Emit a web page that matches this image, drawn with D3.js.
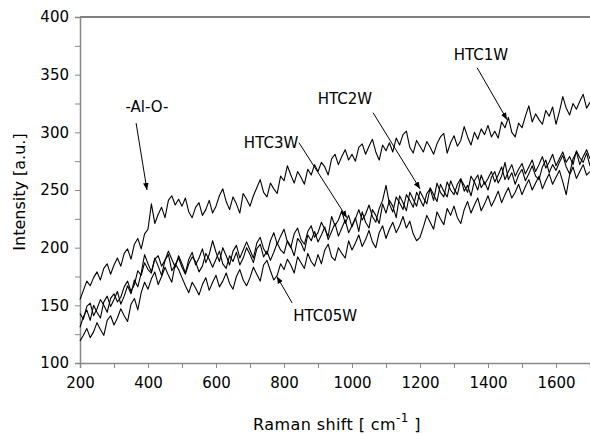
<!DOCTYPE html>
<html>
<head>
<meta charset="utf-8">
<script src="https://cdn.jsdelivr.net/npm/d3@7"></script>
<style>
  body { margin: 0; background: #fff; }
  text { font-family: "DejaVu Sans", sans-serif; }
</style>
</head>
<body>
<div id="plot-container"></div>
<script>
const ramanShift = d3.range(200, 1701, 10);

const htc1w = [155,163,171,167,174,179,172,182,186,177,
  185,191,184,195,199,190,203,208,199,212,
  216,238,221,229,235,226,241,245,237,242,
  236,243,231,226,235,239,228,233,241,230,
  236,245,251,240,233,244,238,230,247,242,
  236,245,252,259,248,244,256,251,247,262,
  258,271,263,256,266,261,255,268,263,272,
  266,274,270,263,277,281,272,279,285,276,
  281,275,287,290,281,288,294,283,276,289,
  284,291,283,295,289,298,301,287,282,293,
  288,283,292,287,281,290,296,299,282,291,
  297,288,293,305,296,289,300,294,303,298,
  306,296,301,295,309,304,313,300,296,308,
  304,314,323,309,316,311,307,319,314,322,
  307,318,331,321,315,325,320,327,333,321,
  326];

const htc2w = [143,138,149,152,141,147,155,150,144,156,
  160,153,157,166,171,162,168,180,176,187,
  181,178,190,193,184,189,194,180,185,191,
  183,177,186,192,188,179,184,195,190,183,
  190,197,186,182,193,188,196,185,191,200,
  194,187,199,203,192,197,189,196,204,198,
  195,206,201,193,208,204,197,211,206,214,
  205,211,218,207,214,221,210,217,224,213,
  219,226,214,231,222,217,233,228,221,238,
  230,241,236,226,245,239,232,248,242,236,
  249,243,238,252,246,240,255,249,244,258,
  251,246,259,254,248,262,257,250,263,255,
  260,266,257,263,270,259,266,272,262,268,
  273,264,270,276,266,272,279,269,274,281,
  271,277,283,274,279,272,284,278,274,282,
  271];

const htc3w = [131,140,146,137,150,144,139,153,158,149,
  155,162,151,158,167,160,172,166,178,194,
  186,179,191,184,176,189,197,190,183,193,
  186,178,190,196,185,191,199,187,194,206,
  196,188,200,193,185,197,202,191,198,205,
  198,191,204,209,199,194,206,213,203,210,
  216,205,200,212,217,207,203,214,219,209,
  213,222,216,210,227,219,224,232,221,228,
  218,225,233,224,229,237,227,222,234,241,
  254,238,231,244,239,233,246,241,235,248,
  242,236,247,251,241,256,248,244,257,250,
  246,255,260,249,254,245,258,263,252,257,
  250,261,266,256,262,274,259,265,255,263,
  268,258,264,271,262,259,270,276,265,272,
  267,274,280,270,264,277,283,272,279,285,
  277];

const htc05w = [119,124,130,122,127,135,129,124,137,141,
  133,139,147,141,136,151,156,146,161,170,
  164,173,179,168,175,183,176,170,186,181,
  174,167,161,170,165,159,168,174,163,170,
  176,166,171,178,169,164,175,181,172,167,
  174,183,177,171,185,189,180,172,176,186,
  181,190,185,178,192,187,182,195,188,184,
  194,186,198,203,192,189,200,195,191,206,
  198,204,211,201,207,215,205,200,213,219,
  208,216,222,213,219,227,217,223,212,206,
  209,218,228,222,216,231,225,220,234,228,
  236,226,221,233,240,230,237,243,232,238,
  245,236,242,249,239,246,252,243,248,255,
  246,253,259,250,256,262,251,258,264,255,
  261,267,257,246,263,270,260,266,272,263,
  266];

const seriesNames = ["HTC1W", "HTC2W", "HTC3W", "HTC05W"];
const seriesValues = [htc1w, htc2w, htc3w, htc05w];

const xTicks = [200, 400, 600, 800, 1000, 1200, 1400, 1600];
const yTicks = [100, 150, 200, 250, 300, 350, 400];

// labels + arrows, in data units
const annotations = [
  { text: "-Al-O-", lx: 397, ly: 318, from: [365, 308], to: [397, 250] },
  { text: "HTC1W", lx: 1379, ly: 363, from: [1368, 356], to: [1456, 311] },
  { text: "HTC2W", lx: 979, ly: 325, from: [1062, 317], to: [1200, 251] },
  { text: "HTC3W", lx: 762, ly: 286, from: [844, 291], to: [985, 226] },
  { text: "HTC05W", lx: 921, ly: 136, from: [824, 152], to: [779, 175] }
];

const margin = { top: 17, right: 0, bottom: 71, left: 80 };
const width = 590 - margin.left - margin.right;
const height = 434 - margin.top - margin.bottom;

const svg = d3.select("#plot-container")
  .append("svg")
  .attr("width", 590)
  .attr("height", 434)
  .append("g")
  .attr("transform", "translate(" + margin.left + "," + margin.top + ")");

const xScale = d3.scaleLinear().domain([200, 1700]).range([0, width]);
const yScale = d3.scaleLinear().domain([100, 400]).range([height, 0]);

// top border
svg.append("line")
  .attr("x1", 0).attr("x2", width)
  .attr("y1", 0).attr("y2", 0)
  .attr("stroke", "#000").attr("stroke-width", 1);

const xAxis = svg.append("g")
  .attr("transform", "translate(0," + height + ")")
  .call(d3.axisBottom(xScale).tickValues(d3.range(200, 1701, 100)).tickSize(5).tickFormat(d => xTicks.includes(d) ? d : ""));

const yAxis = svg.append("g")
  .call(d3.axisLeft(yScale).tickValues(d3.range(100, 401, 25)).tickSize(5).tickFormat(d => yTicks.includes(d) ? d : ""));

[xAxis, yAxis].forEach(ax => {
  ax.select(".domain").attr("stroke", "#888").attr("stroke-width", 1.5);
  ax.selectAll(".tick line").attr("stroke", "#888");
  ax.selectAll("text")
    .attr("fill", "#000")
    .style("font-size", "15px")
    .style("font-family", "DejaVu Sans");
});
xAxis.selectAll("text").attr("dy", "1.15em");
yAxis.selectAll("text").attr("x", -11);

// axis titles
svg.append("text")
  .attr("text-anchor", "middle")
  .attr("transform", "translate(" + (-55) + "," + (height / 2 + 2) + ") rotate(-90)")
  .style("font-size", "16px")
  .text("Intensity [a.u.]");

const xTitle = svg.append("text")
  .attr("text-anchor", "middle")
  .attr("x", width / 2 + 2)
  .attr("y", height + 67)
  .style("font-size", "16px")
  .style("letter-spacing", "0.4px");
xTitle.append("tspan").text("Raman shift [ cm");
xTitle.append("tspan").attr("dy", -8).style("font-size", "12px").text("-1");
xTitle.append("tspan").attr("dy", 8).text(" ]");

// spectra
const line = d3.line()
  .x((d, i) => xScale(ramanShift[i]))
  .y(d => yScale(d));

svg.selectAll(".spectrum")
  .data(seriesValues)
  .enter()
  .append("path")
  .attr("class", "spectrum")
  .attr("d", d => line(d))
  .attr("fill", "none")
  .attr("stroke", "#000")
  .attr("stroke-width", 1.1)
  .attr("stroke-linejoin", "round");

// arrows
svg.append("defs").append("marker")
  .attr("id", "arrow")
  .attr("viewBox", "0 0 10 10")
  .attr("refX", 10).attr("refY", 5)
  .attr("markerWidth", 7).attr("markerHeight", 7)
  .attr("orient", "auto")
  .append("path")
  .attr("d", "M0,1 L10,5 L0,9 Z")
  .attr("fill", "#000");

svg.selectAll(".note-arrow")
  .data(annotations)
  .enter()
  .append("line")
  .attr("class", "note-arrow")
  .attr("x1", d => xScale(d.from[0]))
  .attr("y1", d => yScale(d.from[1]))
  .attr("x2", d => xScale(d.to[0]))
  .attr("y2", d => yScale(d.to[1]))
  .attr("stroke", "#000")
  .attr("stroke-width", 1)
  .attr("marker-end", "url(#arrow)");

svg.selectAll(".note")
  .data(annotations)
  .enter()
  .append("text")
  .attr("class", "note")
  .attr("text-anchor", "middle")
  .attr("x", d => xScale(d.lx))
  .attr("y", d => yScale(d.ly))
  .style("font-size", "15px")
  .text(d => d.text);
</script>
</body>
</html>
